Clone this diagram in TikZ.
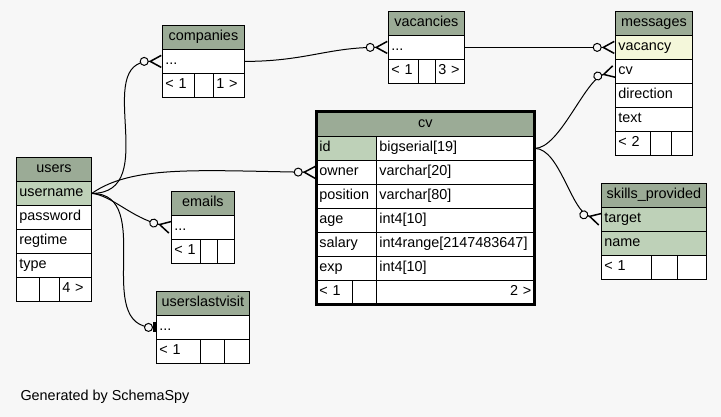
\documentclass[tikz,border=0pt]{standalone}
\usepackage{fontspec}
\setmainfont{Liberation Sans}
\usetikzlibrary{arrows.meta}
\definecolor{bgcol}{HTML}{F7F7F7}
\definecolor{headcol}{HTML}{9BAB96}
\definecolor{keycol}{HTML}{BED1B8}
\definecolor{idxcol}{HTML}{F4F7DA}
\newcommand{\tabfont}{\fontsize{14.4}{16}\selectfont}
\tikzset{
  cell/.style={draw=black, line width=0.8pt, fill=white, anchor=north west,
    inner xsep=3pt, inner ysep=0pt, minimum height=24pt,
    text width=#1, align=left, text height=10pt, text depth=3pt},
  head/.style={cell=#1, fill=headcol, align=center},
  key/.style={cell=#1, fill=keycol},
  manylink/.style={line width=1pt, -{Circle[open,fill=bgcol,length=9pt,width=9pt] Straight Barb[reversed,length=11pt,width=12pt,line width=1.5pt] .}},
  onelink/.style={line width=1pt, -{Circle[open,fill=bgcol,length=9pt,width=9pt] Bar[width=10pt,line width=3pt] .}}
}
\begin{document}
\begin{tikzpicture}[x=1pt,y=-1pt,font=\tabfont]
\fill[bgcol] (0,0) rectangle (721,417);
% users
\node[head=69pt] (users) at (16,157) {users};
\node[key=69pt] (users-username) at (16,181) {username};
\foreach \fld [count=\i] in {password,regtime,type}
  \node[cell=69pt] (users-\fld) at (16,181+24*\i) {\fld};
\node[cell=17pt] (users-f1) at (16,277) {};
\node[cell=14pt] (users-f2) at (39,277) {};
\node[cell=26pt] (users-f3) at (59,277) {4 >};
% companies
\node[head=76pt] (companies) at (162,25) {companies};
\node[cell=76pt] (companies-r) at (162,49) {...};
\node[cell=26pt] (companies-f1) at (162,73) {< 1};
\node[cell=13pt] (companies-f2) at (194,73) {};
\node[cell=25pt] (companies-f3) at (213,73) {1 >};
% vacancies
\node[head=70pt] (vacancies) at (388,11) {vacancies};
\node[cell=70pt] (vacancies-r) at (388,35) {...};
\node[cell=24pt] (vacancies-f1) at (388,59) {< 1};
\node[cell=11pt] (vacancies-f2) at (418,59) {};
\node[cell=23pt] (vacancies-f3) at (435,59) {3 >};
% messages
\node[head=71pt] (messages) at (615,11) {messages};
\node[cell=71pt, fill=idxcol] (messages-vacancy) at (615,35) {vacancy};
\foreach \fld [count=\i] in {cv,direction,text}
  \node[cell=71pt] (messages-\fld) at (615,35+24*\i) {\fld};
\node[cell=29pt] (messages-f1) at (615,131) {< 2};
\node[cell=15pt] (messages-f2) at (650,131) {};
\node[cell=15pt] (messages-f3) at (671,131) {};
% cv
\node[head=212pt] (cv) at (316,112) {cv};
\node[key=54pt] (cv-id) at (316,136) {id};
\node[cell=152pt] (cv-id-t) at (376,136) {bigserial[19]};
\foreach \fld/\fldtype [count=\i] in {owner/varchar[20],position/varchar[80],age/int4[10],salary/int4range[2147483647],exp/int4[10]} {
  \node[cell=54pt] (cv-\fld) at (316,136+24*\i) {\fld};
  \node[cell=152pt] (cv-\fld-t) at (376,136+24*\i) {\fldtype};
}
\node[cell=30pt] (cv-f1) at (316,280) {< 1};
\node[cell=18pt] (cv-f2) at (352,280) {};
\node[cell=152pt, align=right] (cv-f3) at (376,280) {2 >};
\draw[line width=3pt] (cv.north west) rectangle (cv-f3.south east);
% emails
\node[head=57pt] (emails) at (171,191) {emails};
\node[cell=57pt] (emails-r) at (171,215) {...};
\node[cell=23pt] (emails-f1) at (171,239) {< 1};
\node[cell=11pt] (emails-f2) at (200,239) {};
\node[cell=11pt] (emails-f3) at (217,239) {};
% userslastvisit
\node[head=87pt] (userslastvisit) at (156,291) {userslastvisit};
\node[cell=87pt] (userslastvisit-r) at (156,315) {...};
\node[cell=38pt] (userslastvisit-f1) at (156,339) {< 1};
\node[cell=18pt] (userslastvisit-f2) at (200,339) {};
\node[cell=19pt] (userslastvisit-f3) at (224,339) {};
% skills_provided
\node[head=99pt] (skills) at (601,183) {skills\_provided};
\node[key=99pt] (skills-target) at (601,207) {target};
\node[key=99pt] (skills-name) at (601,231) {name};
\node[cell=44pt] (skills-f1) at (601,255) {< 1};
\node[cell=20pt] (skills-f2) at (651,255) {};
\node[cell=23pt] (skills-f3) at (677,255) {};
% links
\draw[manylink] (users-username.east) .. controls +(71,0) and +(-71,0) .. (companies-r.west);
\draw[manylink] (users-username.east) .. controls +(40,-28) and +(-120,-2) .. (cv-owner.west);
\draw[manylink] (users-username.east) .. controls +(20,2) and +(-40,-10) .. (emails-r.west);
\draw[onelink] (users-username.east) .. controls +(65,0) and +(-65,0) .. (userslastvisit-r.west);
\draw[manylink] (companies-r.east) .. controls +(60,0) and +(-60,0) .. (vacancies-r.west);
\draw[manylink] (vacancies-r.east) -- (messages-vacancy.west);
\draw[manylink] (cv-id-t.east) .. controls +(25,0) and +(-30,8) .. (messages-cv.west);
\draw[manylink] (cv-id-t.east) .. controls +(25,0) and +(-30,-8) .. (skills-target.west);
\node[anchor=base west] (credit) at (17,400) {Generated by SchemaSpy};
\end{tikzpicture}
\end{document}
